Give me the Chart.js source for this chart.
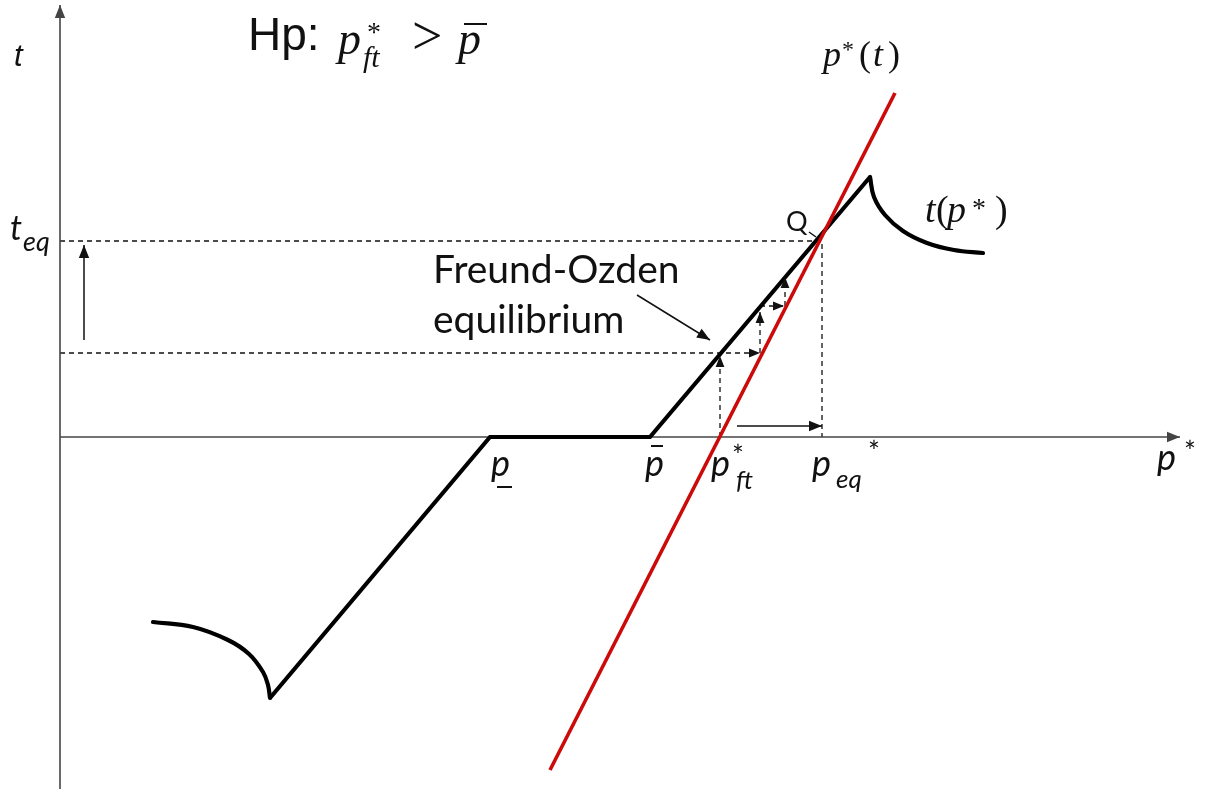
<!DOCTYPE html>
<html><head><meta charset="utf-8">
<script src="https://cdn.jsdelivr.net/npm/chart.js@4.4.1/dist/chart.umd.min.js"></script>
<style>html,body{margin:0;padding:0;background:#fff}#wrap{width:1211px;height:789px;position:relative}</style>
</head><body><div id="wrap"><canvas id="c" width="1211" height="789"></canvas></div>
<script>
// ---------- data (p*, t) ----------
const leftCurveP  = [9.3, 13.3, 16.8, 18.9, 20.3, 20.8, 21.0];
const leftCurveT  = [-18.5, -19.0, -20.3, -21.7, -23.5, -24.8, -26.1];
const kinkP       = [21.0, 43.0, 59.0, 81.0];
const kinkT       = [-26.1, 0, 0, 26.0];
const rightCurveP = [81.0, 81.4, 82.5, 84.3, 86.7, 89.4, 92.3];
const rightCurveT = [26.0, 24.0, 22.2, 20.6, 19.4, 18.7, 18.4];
const redP        = [49.0, 83.5];
const redT        = [-33.3, 34.4];
const tEq = 19.6, pEq = 76.2, tFt = 8.4, pFt = 66.0;
const stepP = [66.0, 70.0, 72.4];
const stepT = [8.4, 13.1, 16.0];
const axisPRange = [-6, 115.1];
const axisTRange = [-35.2, 43.7];

const zip = (a, b) => a.map((v, i) => ({x: v, y: b[i]}));
const INK = '#111';

function line(pts, o) {
  return Object.assign({data: pts, showLine: true, pointRadius: 0, pointHoverRadius: 0,
    borderColor: INK, borderWidth: 1.3, fill: false, tension: 0, order: 5}, o || {});
}
const dash = [5, 4];
const datasets = [
  // axes
  line([{x:0,y:axisTRange[0]},{x:0,y:43.2}], {borderColor:'#444', borderWidth:1.6, arrowEnd:true, arrowSize:13}),
  line([{x:0,y:0},{x:112,y:0}], {borderColor:'#444', borderWidth:1.6, arrowEnd:true, arrowSize:13}),
  // dashed guide lines
  line([{x:0,y:tEq},{x:pEq,y:tEq},{x:pEq,y:0}], {borderDash:dash}),
  line([{x:0,y:tFt},{x:stepP[1],y:tFt}], {borderDash:dash, arrowEnd:true, arrowSize:11}),
  line([{x:pFt,y:0},{x:pFt,y:tFt-0.3}], {borderDash:dash, arrowEnd:true, arrowSize:11}),
  line([{x:stepP[1],y:tFt},{x:stepP[1],y:stepT[1]-0.6}], {borderDash:dash, arrowEnd:true, arrowSize:11}),
  line([{x:stepP[1],y:stepT[1]},{x:stepP[2],y:stepT[1]}], {borderDash:dash, arrowEnd:true, arrowSize:11}),
  line([{x:stepP[2]+0.1,y:stepT[1]},{x:stepP[2]+0.1,y:stepT[2]}], {borderDash:dash, arrowEnd:true, arrowSize:11}),
  // solid arrows
  line([{x:67.7,y:1.1},{x:pEq,y:1.1}], {borderWidth:1.5, arrowEnd:true, arrowSize:13}),
  line([{x:2.4,y:9.7},{x:2.4,y:tEq-0.4}], {borderWidth:1.5, arrowEnd:true, arrowSize:13}),
  line([{x:57.7,y:14.2},{x:65.0,y:9.7}], {borderWidth:1.5, arrowEnd:true, arrowSize:13}),
  line([{x:74.9,y:20.5},{x:75.6,y:20.0}], {borderWidth:1.5}),
  // t(p*) curve
  line(zip(leftCurveP, leftCurveT), {borderColor:'#000', borderWidth:4.2, tension:0.4, order:2, borderCapStyle:'round'}),
  line(zip(kinkP, kinkT), {borderColor:'#000', borderWidth:4.2, order:2, borderJoinStyle:'miter'}),
  line(zip(rightCurveP, rightCurveT), {borderColor:'#000', borderWidth:4.2, tension:0.4, order:2, borderCapStyle:'round'}),
  // p*(t) line
  line(zip(redP, redT), {borderColor:'#cc0a0a', borderWidth:3.6, order:1}),
];

const arrowPlugin = {
  id: 'arrows',
  afterDatasetsDraw(chart) {
    const ctx = chart.ctx;
    chart.data.datasets.forEach((ds, i) => {
      if (!ds.arrowEnd) return;
      const pts = chart.getDatasetMeta(i).data;
      const a = pts[pts.length - 2], b = pts[pts.length - 1];
      const ang = Math.atan2(b.y - a.y, b.x - a.x);
      const L = ds.arrowSize || 12, W = L * 0.4;
      ctx.save();
      ctx.fillStyle = ds.borderColor;
      ctx.beginPath();
      ctx.moveTo(b.x, b.y);
      ctx.lineTo(b.x - L*Math.cos(ang) + W*Math.sin(ang), b.y - L*Math.sin(ang) - W*Math.cos(ang));
      ctx.lineTo(b.x - L*Math.cos(ang) - W*Math.sin(ang), b.y - L*Math.sin(ang) + W*Math.cos(ang));
      ctx.closePath();
      ctx.fill();
      ctx.restore();
    });
  }
};

const SANS = "'Liberation Sans', Arial, sans-serif";
const SERIF = "'Liberation Serif', 'Times New Roman', serif";
const LAT = "Lato, 'Open Sans', sans-serif";

// label anchors in data coords; parts placed at pixel offsets (x, y) from the anchor
const labels = [
  {p:-4.6, t:37.1, parts:[{s:'t', f:'italic 31px '+SANS, x:0, y:0}]},
  {p:-5.0, t:19.7, parts:[{s:'t', f:'italic 34px '+LAT, x:0, y:0},{s:'eq', f:'italic 27px '+LAT, x:13, y:11}]},
  {p:19.0, t:38.7, parts:[
     {s:'Hp:', f:'46px '+SANS, x:-2, y:0},
     {s:'p', f:'italic 46px '+SERIF, x:88, y:4},{s:'*', f:'28px '+SERIF, x:117, y:-9},{s:'ft', f:'italic 30px '+SERIF, x:113, y:17},
     {s:'>', f:'54px '+SERIF, x:162, y:4},{s:'p', f:'italic 46px '+SERIF, x:208, y:4},{line:[214, 237, -26]}]},
  {p:109.7, t:-3.3, parts:[{s:'p', f:'italic 36px '+LAT, x:0, y:0},{s:'*', f:'28px '+LAT, x:27, y:-8}]},
  {p:43.1, t:-3.9, parts:[{s:'p', f:'italic 36px '+LAT, x:0, y:0},{line:[6, 21, 11]}]},
  {p:58.5, t:-3.9, parts:[{s:'p', f:'italic 36px '+LAT, x:0, y:0},{line:[6, 18, -30]}]},
  {p:65.1, t:-3.9, parts:[{s:'p', f:'italic 36px '+LAT, x:0, y:0},{s:'*', f:'28px '+LAT, x:21, y:-10},{s:'ft', f:'italic 26px '+LAT, x:25, y:13}]},
  {p:75.2, t:-3.9, parts:[{s:'p', f:'italic 36px '+LAT, x:0, y:0},{s:'eq', f:'italic 26px '+LAT, x:24, y:12},{s:'*', f:'28px '+LAT, x:56, y:-14}]},
  {p:76.3, t:37.1, parts:[{s:'p', f:'italic 36px '+SERIF, x:0, y:0},{s:'*', f:'24px '+SERIF, x:19, y:-9},
     {s:'(', f:'36px '+SERIF, x:36, y:0},{s:'t', f:'italic 36px '+SERIF, x:50, y:0},{s:')', f:'36px '+SERIF, x:65, y:0}]},
  {p:86.5, t:21.5, parts:[{s:'t', f:'italic 38px '+SERIF, x:0, y:0},{s:'(', f:'38px '+SERIF, x:11, y:0},
     {s:'p', f:'italic 38px '+SERIF, x:22, y:0},{s:'*', f:'28px '+SERIF, x:47, y:-5},{s:')', f:'38px '+SERIF, x:70, y:0}]},
  {p:72.5, t:20.6, parts:[{s:'Q', f:'27px '+LAT, x:1, y:0}]},
  {p:37.3, t:15.4, parts:[{s:'Freund-Ozden', f:'39px '+LAT, x:0, y:0}]},
  {p:37.3, t:10.4, parts:[{s:'equilibrium', f:'39px '+LAT, x:0, y:0}]},
];

const textPlugin = {
  id: 'texts',
  afterDraw(chart) {
    const ctx = chart.ctx, xs = chart.scales.x, ys = chart.scales.y;
    ctx.save();
    ctx.fillStyle = INK; ctx.strokeStyle = INK;
    ctx.textBaseline = 'alphabetic'; ctx.textAlign = 'left';
    labels.forEach(l => {
      const x0 = xs.getPixelForValue(l.p);
      const y0 = ys.getPixelForValue(l.t);
      l.parts.forEach(pt => {
        if (pt.line) {
          ctx.lineWidth = 2;
          ctx.beginPath();
          ctx.moveTo(x0 + pt.line[0], y0 + pt.line[2]);
          ctx.lineTo(x0 + pt.line[1], y0 + pt.line[2]);
          ctx.stroke();
          return;
        }
        ctx.font = pt.f;
        ctx.fillText(pt.s, x0 + pt.x, y0 + pt.y);
      });
    });
    ctx.restore();
  }
};

new Chart(document.getElementById('c'), {
  type: 'scatter',
  data: {datasets},
  options: {
    responsive: false, animation: false, devicePixelRatio: 1,
    layout: {padding: 0},
    plugins: {legend: {display:false}, tooltip: {enabled:false}},
    events: [],
    scales: {
      x: {type:'linear', min:axisPRange[0], max:axisPRange[1], display:false},
      y: {type:'linear', min:axisTRange[0], max:axisTRange[1], display:false}
    }
  },
  plugins: [arrowPlugin, textPlugin]
});
</script></body></html>
